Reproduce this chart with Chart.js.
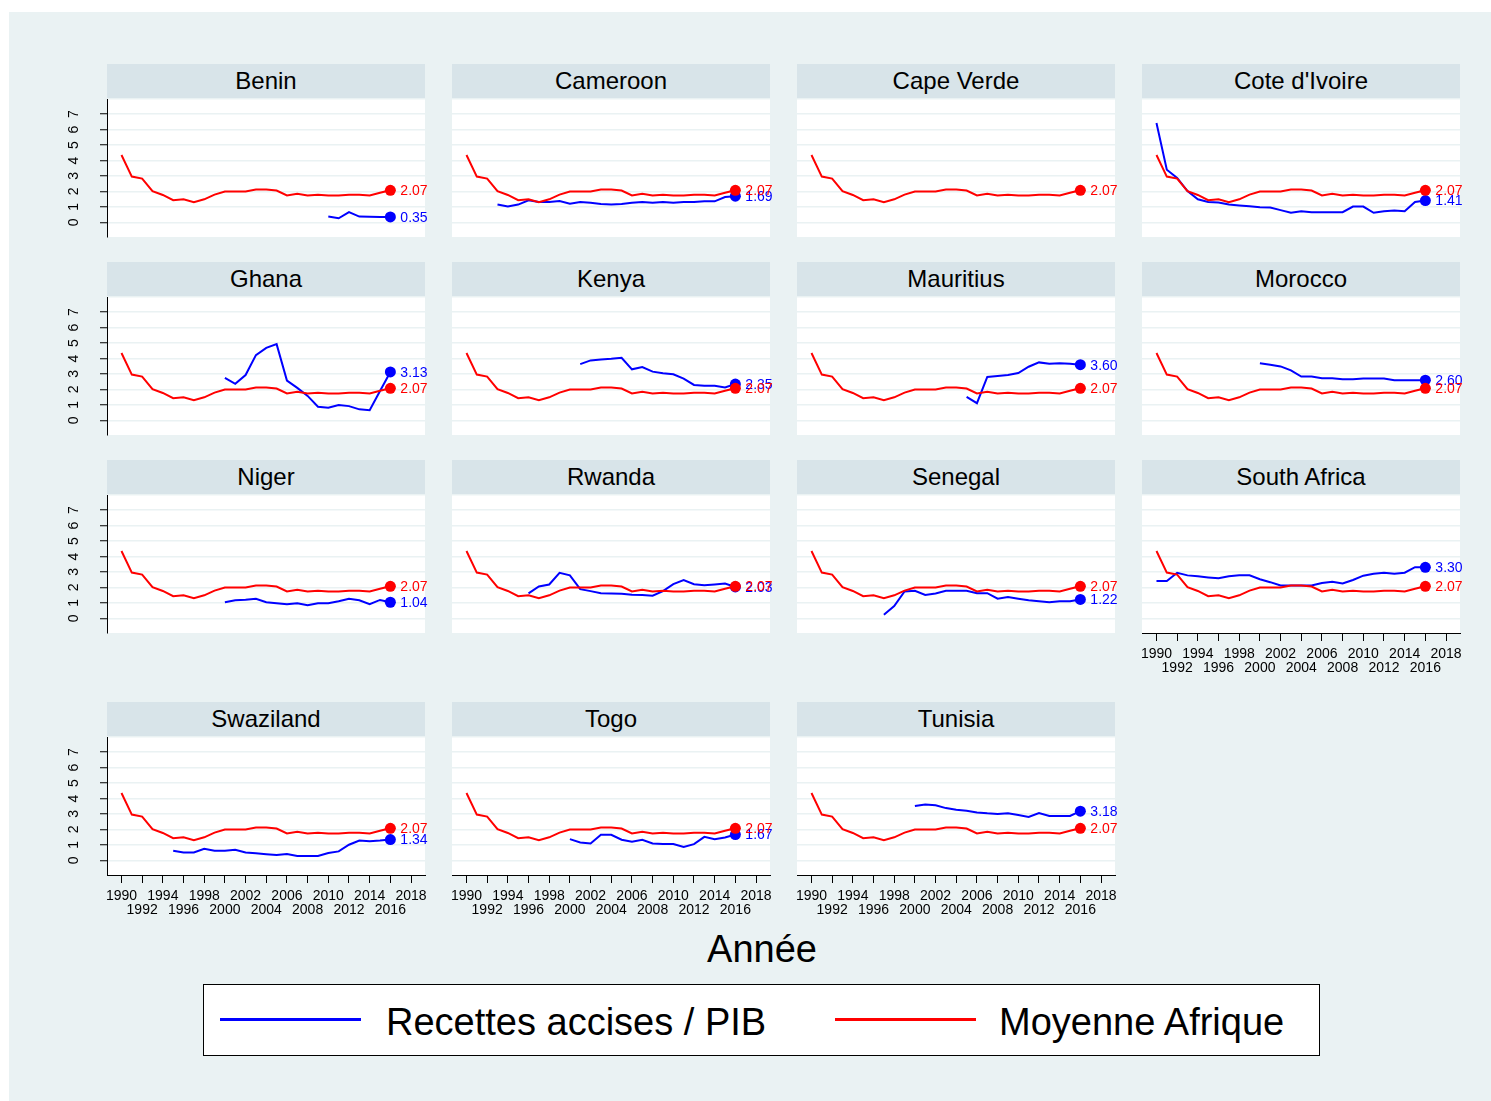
<!DOCTYPE html>
<html>
<head>
<meta charset="utf-8">
<script src="https://cdn.jsdelivr.net/npm/chart.js@4.4.0/dist/chart.umd.min.js"></script>
<style>
  body { margin: 0; width: 1491px; height: 1101px; overflow: hidden; position: relative; background: #fff;
         font-family: "Liberation Sans", Arial, Helvetica, sans-serif; }
  #bg { position: absolute; left: 9px; top: 12px; width: 1482px; height: 1089px; background: rgb(234,242,243); }
  .strip { position: absolute; width: 318px; height: 34px; background: rgb(216,228,233); color: #000;
           font-size: 24px; line-height: 34px; text-align: center; white-space: nowrap; }
  canvas { position: absolute; }
  #xtitle { position: absolute; left: 562px; width: 400px; top: 929px; height: 40px; line-height: 40px;
            text-align: center; font-size: 38px; color: #000; }
  #legend { position: absolute; left: 203px; top: 984px; width: 1117px; height: 72px; box-sizing: border-box;
            border: 1.5px solid #000; background: #fff; }
  .lline { position: absolute; height: 3px; top: 33px; }
  .ltext { position: absolute; top: 1px; height: 72px; line-height: 72px; font-size: 38px; color: #000; white-space: nowrap; }
</style>
</head>
<body>
<div id="bg"></div>
<div id="panels"></div>
<div id="xtitle">Année</div>
<div id="legend">
  <div class="lline" style="left:16px; width:141px; background:#0000ff;"></div>
  <div class="ltext" style="left:182px;">Recettes accises / PIB</div>
  <div class="lline" style="left:631px; width:141px; background:#ff0000;"></div>
  <div class="ltext" style="left:795px;">Moyenne Afrique</div>
</div>
<script>
// Years of observation and axis ticks
const years = [1990,1991,1992,1993,1994,1995,1996,1997,1998,1999,2000,2001,2002,2003,2004,
               2005,2006,2007,2008,2009,2010,2011,2012,2013,2014,2015,2016];
const xTickYears = [1990,1992,1994,1996,1998,2000,2002,2004,2006,2008,2010,2012,2014,2016,2018];
const yTicks = [0,1,2,3,4,5,6,7];

// African average (same reference line in every panel)
const moyenneAfrique = [4.36,2.96,2.83,2.02,1.77,1.43,1.49,1.30,1.49,1.79,2.00,2.00,2.00,2.13,2.13,
                        2.06,1.74,1.85,1.74,1.79,1.74,1.74,1.79,1.79,1.74,1.92,2.07];

// Excise revenue / GDP by country, 1990-2016 (null = no data)
const benin = [null,null,null,null,null,null,null,null,null,null,null,null,null,null,null,
               null,null,null,null,null,0.38,0.26,0.66,0.37,0.36,0.35,0.35];
const cameroon = [null,null,null,1.15,1.02,1.15,1.43,1.32,1.32,1.38,1.21,1.32,1.26,1.19,1.15,
                  1.19,1.26,1.32,1.26,1.32,1.26,1.32,1.32,1.36,1.36,1.64,1.69];
const capeVerde = [null,null,null,null,null,null,null,null,null,null,null,null,null,null,null,
                   null,null,null,null,null,null,null,null,null,null,null,null];
const coteDIvoire = [6.43,3.40,2.87,2.02,1.49,1.32,1.28,1.15,1.09,1.04,0.98,0.96,0.79,0.62,0.72,
                     0.66,0.66,0.66,0.66,1.02,1.02,0.62,0.72,0.77,0.72,1.32,1.41];
const ghana = [null,null,null,null,null,null,null,null,null,null,2.74,2.36,2.93,4.22,4.69,
               4.93,2.57,2.10,1.58,0.88,0.81,0.99,0.92,0.71,0.66,1.90,3.13];
const kenya = [null,null,null,null,null,null,null,null,null,null,null,3.64,3.88,3.94,3.98,
               4.05,3.30,3.45,3.15,3.04,2.98,2.70,2.29,2.23,2.23,2.12,2.35];
const mauritius = [null,null,null,null,null,null,null,null,null,null,null,null,null,null,null,
                   1.52,1.11,2.81,2.87,2.94,3.06,3.47,3.75,3.66,3.70,3.66,3.60];
const morocco = [null,null,null,null,null,null,null,null,null,null,3.70,3.60,3.49,3.23,2.83,
                 2.83,2.72,2.72,2.66,2.66,2.70,2.70,2.70,2.59,2.59,2.59,2.60];
const niger = [null,null,null,null,null,null,null,null,null,null,1.04,1.17,1.21,1.27,1.04,
               0.98,0.91,0.98,0.85,0.98,0.98,1.10,1.27,1.17,0.91,1.19,1.04];
const rwanda = [null,null,null,null,null,null,1.61,2.06,2.19,2.95,2.78,1.89,1.76,1.63,1.61,
                1.59,1.53,1.51,1.46,1.76,2.21,2.48,2.21,2.14,2.19,2.25,2.03];
const senegal = [null,null,null,null,null,null,null,0.23,0.79,1.74,1.78,1.51,1.61,1.78,1.78,
                 1.78,1.63,1.63,1.27,1.38,1.27,1.17,1.10,1.04,1.10,1.10,1.22];
const southAfrica = [2.42,2.42,2.95,2.78,2.72,2.65,2.59,2.72,2.78,2.78,2.53,2.34,2.12,2.12,2.12,
                     2.12,2.29,2.36,2.25,2.48,2.76,2.89,2.95,2.89,2.95,3.31,3.30];
const swaziland = [null,null,null,null,null,0.62,0.51,0.51,0.75,0.62,0.62,0.69,0.51,0.45,0.39,
                   0.34,0.41,0.28,0.28,0.28,0.47,0.58,1.01,1.28,1.24,1.28,1.34];
const togo = [null,null,null,null,null,null,null,null,null,null,1.37,1.16,1.09,1.65,1.65,
              1.33,1.20,1.33,1.09,1.05,1.05,0.86,1.05,1.52,1.37,1.48,1.67];
const tunisia = [null,null,null,null,null,null,null,null,null,null,3.51,3.62,3.56,3.38,3.28,
                 3.21,3.10,3.04,3.00,3.04,2.93,2.81,3.06,2.87,2.87,2.87,3.18];

const countryNames = ['Benin','Cameroon','Cape Verde',"Cote d'Ivoire",'Ghana','Kenya','Mauritius','Morocco',
                      'Niger','Rwanda','Senegal','South Africa','Swaziland','Togo','Tunisia'];
const countrySeries = [benin,cameroon,capeVerde,coteDIvoire,ghana,kenya,mauritius,morocco,
                       niger,rwanda,senegal,southAfrica,swaziland,togo,tunisia];
const withXAxis = ['South Africa','Swaziland','Togo','Tunisia'];

// Panel grid geometry
const COL_LEFT = [107, 452, 797, 1142];
const ROW_TOP = [98, 296, 494, 736];
const PLOT_W = 318, PLOT_H = 139;
const PAD_L = 60, PAD_R = 30, PAD_T = 4, PAD_B = 50;

const RED = '#ff0000', BLUE = '#0000ff', GRID = 'rgb(234,242,243)';
const FONT = '"Liberation Sans", Arial, Helvetica, sans-serif';

// White plotting region behind the grid
const plotBackground = {
  id: 'plotBackground',
  beforeDraw(chart) {
    const a = chart.chartArea, ctx = chart.ctx;
    ctx.save();
    ctx.fillStyle = '#ffffff';
    ctx.fillRect(a.left, a.top, a.right - a.left, a.bottom - a.top);
    ctx.restore();
  }
};

// Value written next to the 2016 marker of each series
const endLabels = {
  id: 'endLabels',
  afterDatasetsDraw(chart) {
    const ctx = chart.ctx;
    ctx.save();
    ctx.font = '14px ' + FONT;
    ctx.textBaseline = 'middle';
    ctx.textAlign = 'left';
    for (let d = chart.data.datasets.length - 1; d >= 0; d--) {
      const ds = chart.data.datasets[d];
      const last = ds.data.length - 1;
      const v = ds.data[last].y;
      if (v === null || v === undefined) continue;
      const pt = chart.getDatasetMeta(d).data[last];
      ctx.fillStyle = ds.borderColor;
      ctx.fillText(v.toFixed(2), pt.x + 10, pt.y + 1);
    }
    ctx.restore();
  }
};

function series(values) {
  return years.map((yr, i) => ({ x: yr, y: values[i] }));
}

function lineDataset(label, values, color) {
  return {
    label: label,
    data: series(values),
    borderColor: color,
    backgroundColor: color,
    borderWidth: 2,
    pointRadius: ctx => (ctx.dataIndex === years.length - 1 ? 5.5 : 0),
    pointBorderWidth: 0,
    pointHoverRadius: 0,
    spanGaps: false,
    tension: 0
  };
}

const panels = document.getElementById('panels');

countryNames.forEach((name, k) => {
  const col = k % 4, row = Math.floor(k / 4);
  const left = COL_LEFT[col], top = ROW_TOP[row];
  const showY = col === 0;
  const showX = withXAxis.includes(name);

  const strip = document.createElement('div');
  strip.className = 'strip';
  strip.style.left = left + 'px';
  strip.style.top = (top - 34) + 'px';
  strip.textContent = name;
  panels.appendChild(strip);

  const cv = document.createElement('canvas');
  const w = PAD_L + PLOT_W + PAD_R, h = PAD_T + PLOT_H + PAD_B;
  cv.width = w; cv.height = h;
  cv.style.width = w + 'px'; cv.style.height = h + 'px';
  cv.style.left = (left - PAD_L) + 'px';
  cv.style.top = (top - PAD_T) + 'px';
  panels.appendChild(cv);

  new Chart(cv, {
    type: 'line',
    data: {
      datasets: [
        lineDataset('Moyenne Afrique', moyenneAfrique, RED),
        lineDataset('Recettes accises / PIB', countrySeries[k], BLUE)
      ]
    },
    options: {
      responsive: false,
      animation: false,
      devicePixelRatio: 1,
      events: [],
      layout: { padding: { left: showY ? 3 : PAD_L, right: PAD_R, top: PAD_T, bottom: showX ? 5 : PAD_B } },
      plugins: { legend: { display: false }, tooltip: { enabled: false }, title: { display: false } },
      scales: {
        x: {
          type: 'linear', min: 1988.6, max: 2019.35,
          display: showX,
          afterBuildTicks: s => { s.ticks = xTickYears.map(v => ({ value: v })); },
          afterFit: s => { s.height = showX ? 45 : 0; s.paddingLeft = 0; s.paddingRight = 0; },
          grid: { drawOnChartArea: false, drawTicks: true, tickLength: 8, tickColor: '#000', tickWidth: 1, color: '#000' },
          border: { display: true, color: '#000', width: 1 },
          ticks: {
            autoSkip: false, minRotation: 0, maxRotation: 0, padding: 6, color: '#000',
            font: { size: 14, family: FONT, lineHeight: 1 },
            callback: (v, i) => (i % 2 === 0 ? [String(v), ''] : ['', String(v)])
          }
        },
        y: {
          type: 'linear', min: -0.95, max: 7.95,
          afterBuildTicks: s => { s.ticks = yTicks.map(v => ({ value: v })); },
          afterFit: s => { s.width = showY ? 57 : 0; s.paddingTop = 0; s.paddingBottom = 0; },
          grid: { color: GRID, lineWidth: 1.5, drawTicks: showY, tickLength: 7, tickColor: '#000', tickWidth: 1 },
          border: { display: showY, color: '#000', width: 1 },
          ticks: {
            display: showY, autoSkip: false, minRotation: 90, maxRotation: 90, crossAlign: 'center',
            padding: 22, color: '#000', font: { size: 14, family: FONT }
          }
        }
      }
    },
    plugins: [plotBackground, endLabels]
  });
});
</script>
</body>
</html>
